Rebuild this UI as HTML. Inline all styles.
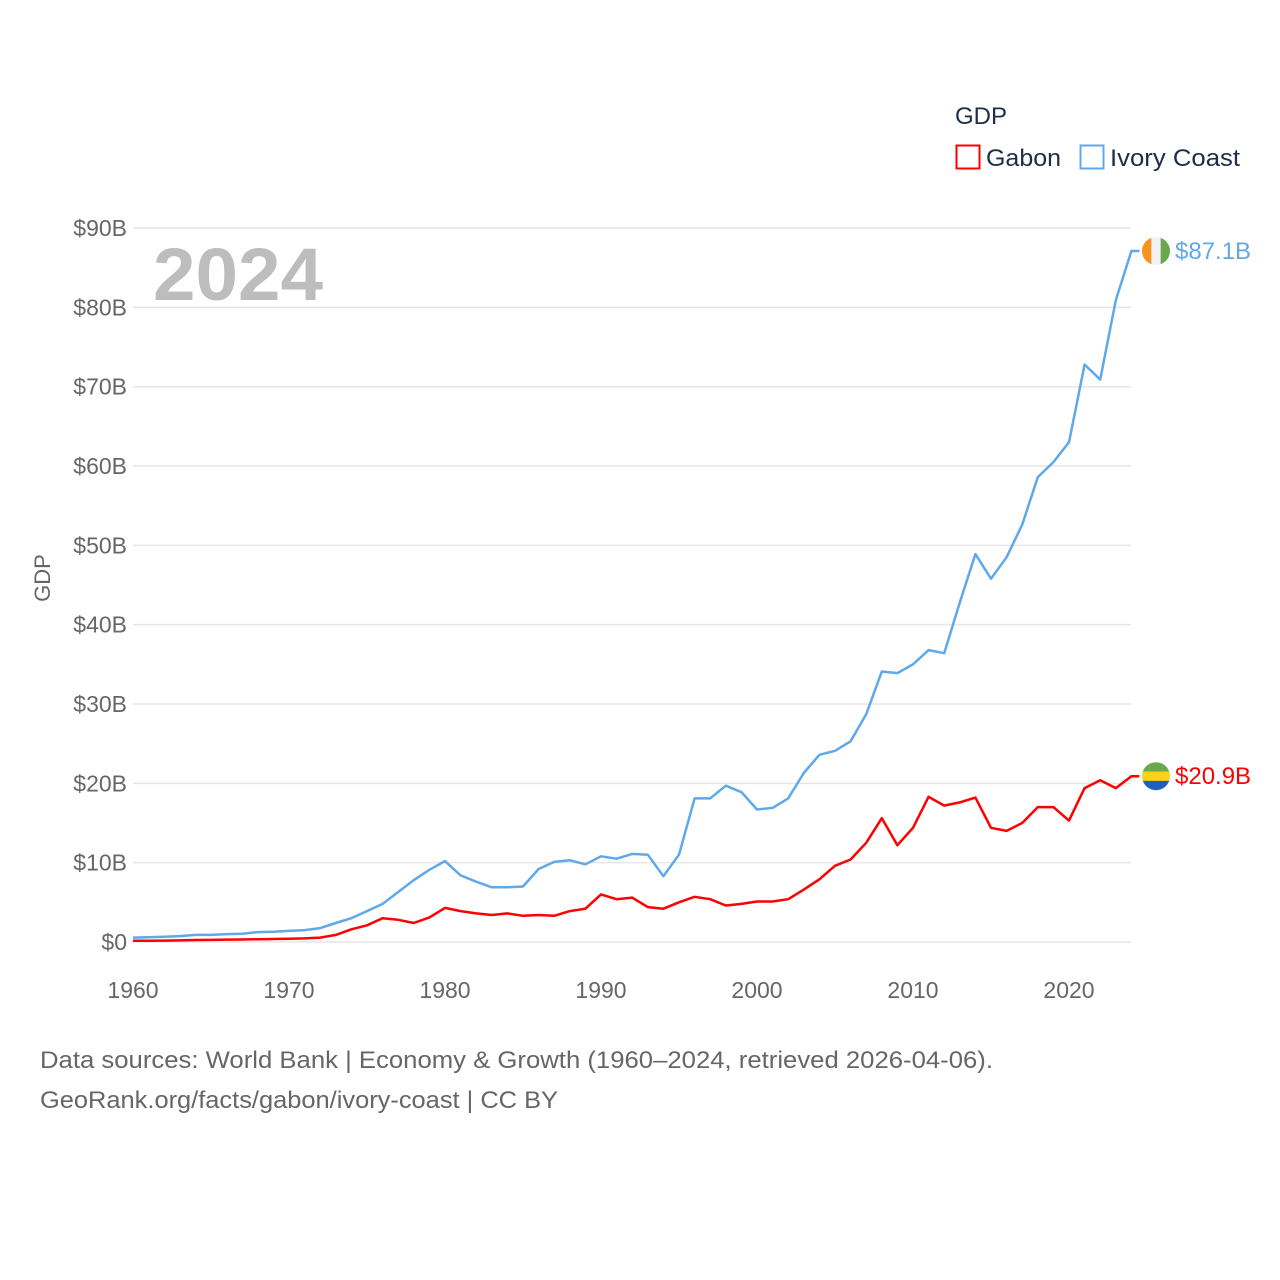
<!DOCTYPE html>
<html><head><meta charset="utf-8"><style>
body{margin:0;background:#fff;font-family:"Liberation Sans",sans-serif;}
svg{display:block}
</style></head><body>
<svg id="chart" width="1280" height="1280" viewBox="0 0 1280 1280">
<g id="grid"></g>
<g id="yticks"></g>
<g id="xticks"></g>
<text x="153" y="300" font-size="74" font-weight="bold" fill="#bdbdbd" textLength="170" lengthAdjust="spacingAndGlyphs">2024</text>
<text transform="translate(50,578) rotate(-90)" text-anchor="middle" font-size="22" fill="#666">GDP</text>
<g id="series"></g>
<g>
<text x="955" y="124" font-size="24" fill="#1c2e4a">GDP</text>
<g><rect x="956.5" y="145.5" width="23" height="23" fill="none" stroke="#f00" stroke-width="2"/><text x="986" y="166" font-size="24" fill="#1c2e4a" textLength="75" lengthAdjust="spacingAndGlyphs">Gabon</text></g>
<g><rect x="1080.5" y="145.5" width="23" height="23" fill="none" stroke="#5fa8ea" stroke-width="2"/><text x="1110" y="166" font-size="24" fill="#1c2e4a" textLength="130" lengthAdjust="spacingAndGlyphs">Ivory Coast</text></g>
</g>
<text x="40" y="1068" font-size="24" fill="#666" textLength="953" lengthAdjust="spacingAndGlyphs">Data sources: World Bank | Economy &amp; Growth (1960–2024, retrieved 2026-04-06).</text>
<text x="40" y="1108" font-size="24" fill="#666" textLength="518" lengthAdjust="spacingAndGlyphs">GeoRank.org/facts/gabon/ivory-coast | CC BY</text>
</svg>
<script>
const years=[];for(let y=1960;y<=2024;y++)years.push(y);
const ivoryCoast=[0.55,0.6,0.65,0.75,0.9,0.9,1.0,1.05,1.25,1.3,1.4,1.5,1.75,2.4,3.0,3.9,4.8,6.3,7.8,9.1,10.2,8.4,7.6,6.9,6.9,7.0,9.2,10.1,10.3,9.8,10.8,10.5,11.1,11.0,8.3,11.0,18.1,18.1,19.7,18.9,16.7,16.9,18.1,21.3,23.6,24.1,25.3,28.7,34.1,33.9,35.0,36.8,36.4,42.8,48.9,45.8,48.5,52.6,58.6,60.5,63.0,72.8,70.9,80.9,87.1];
const gabon=[0.15,0.16,0.18,0.2,0.25,0.27,0.3,0.32,0.35,0.38,0.4,0.45,0.55,0.9,1.6,2.1,3.0,2.8,2.4,3.1,4.3,3.9,3.6,3.4,3.6,3.3,3.4,3.3,3.9,4.2,6.0,5.4,5.6,4.4,4.2,5.0,5.7,5.4,4.6,4.8,5.1,5.1,5.4,6.6,7.9,9.6,10.4,12.5,15.6,12.2,14.4,18.3,17.2,17.6,18.2,14.4,14.0,15.0,17.0,17.0,15.3,19.4,20.4,19.4,20.9];
const yTicks=[0,10,20,30,40,50,60,70,80,90];
const yTickLabels=["$0","$10B","$20B","$30B","$40B","$50B","$60B","$70B","$80B","$90B"];
const xTicks=[1960,1970,1980,1990,2000,2010,2020];
const NS="http://www.w3.org/2000/svg";
const X=y=>133+(y-1960)*15.6;
const Y=v=>942-v*7.933;
function mk(t,a,p){const e=document.createElementNS(NS,t);for(const k in a)e.setAttribute(k,a[k]);p.appendChild(e);return e;}
const grid=document.getElementById('grid'),yt=document.getElementById('yticks'),xt=document.getElementById('xticks'),ser=document.getElementById('series');
yTicks.forEach((v,i)=>{
 const l=mk('line',{x1:133,x2:1131,y1:Y(v),y2:Y(v),stroke:'#e6e6e6','stroke-width':1.5},grid);
 
 
 const t=mk('text',{x:127,y:Y(v)+8,'text-anchor':'end','font-size':23,fill:'#666'},yt);
 t.textContent=yTickLabels[i];
 
 
});
xTicks.forEach(y=>{
 const t=mk('text',{x:X(y),y:998,'text-anchor':'middle','font-size':23,fill:'#666'},xt);
 t.textContent=y;
 
 
});
function line(data,color,name){
 const pts=data.map((v,i)=>X(years[i]).toFixed(1)+','+Y(v).toFixed(1));
 const last=data[data.length-1];
 pts.push((X(2024)+8)+','+Y(last).toFixed(1));
 const p=mk('polyline',{points:pts.join(' '),fill:'none',stroke:color,'stroke-width':2.5,'stroke-linejoin':'round'},ser);
 
 
 return Y(last);
}
function flagDot(cy,cols,vertical,name){
 const g=mk('g',{},ser);
 
 
 const cx=1156,r=14;
 const cp=mk('clipPath',{id:'c'+name},g);mk('circle',{cx:cx,cy:cy,r:r},cp);
 const gg=mk('g',{'clip-path':'url(#c'+name+')'},g);
 cols.forEach((c,i)=>{
  if(vertical)mk('rect',{x:cx-r+i*2*r/3,y:cy-r,width:2*r/3+0.5,height:2*r,fill:c},gg);
  else mk('rect',{x:cx-r,y:cy-r+i*2*r/3,width:2*r,height:2*r/3+0.5,fill:c},gg);
 });
}
const yi=line(ivoryCoast,'#5fa8ea','ivory-coast');
const yg=line(gabon,'#ff0000','gabon');
flagDot(yi,['#f7941d','#f2f2f2','#6aa84f'],true,'ivory-coast');
flagDot(yg,['#6aa84f','#fcd116','#1f5fbf'],false,'gabon');
[[yi,ivoryCoast,'#5fa8ea','ivory-coast'],[yg,gabon,'#f00','gabon']].forEach(([y,d,c,n])=>{
 const t=mk('text',{x:1175,y:y+8,'font-size':24,fill:c},ser);
 t.textContent='$'+d[d.length-1].toFixed(1)+'B';
 
 
});
</script>
</body></html>
